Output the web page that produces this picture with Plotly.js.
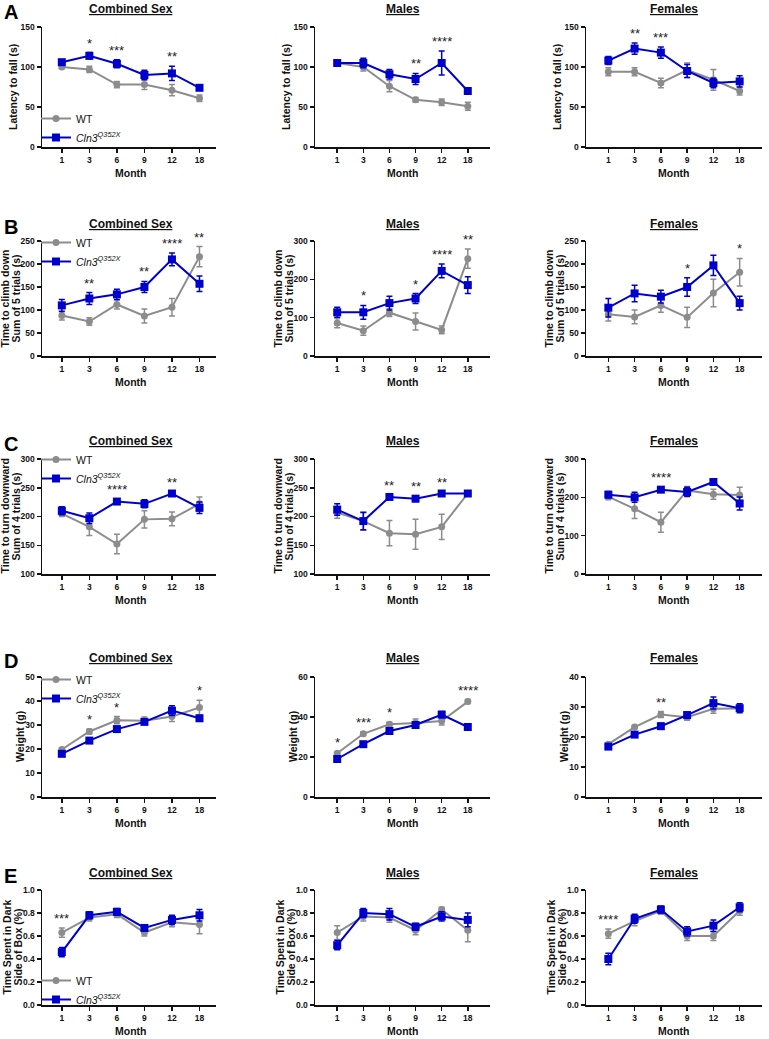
<!DOCTYPE html>
<html>
<head>
<meta charset="utf-8">
<script src="https://cdn.plot.ly/plotly-3.0.1.min.js"></script>
<style>body{margin:0;background:#fff}</style>
</head>
<body>
<div id="grafica" style="width:769px;height:1039px"></div>
<script>
var months = ['1', '3', '6', '9', '12', '18'];
var colTitles = ['Combined Sex', 'Males', 'Females'];
var rowLetters = ['A', 'B', 'C', 'D', 'E'];
var yTitles = [
  ['Latency to fall (s)'],
  ['Time to climb down', 'Sum of 5 trials (s)'],
  ['Time to turn downward', 'Sum of 4 trials (s)'],
  ['Weight (g)'],
  ['Time Spent in Dark', 'Side of Box (%)']
];
var xTitle = 'Month';
var wtName = 'WT';
var koName = '<i>Cln3<sup>Q352X</sup></i>';

// A - latency to fall
var aCombWT = [100, 97, 78, 78, 71, 61], aCombWTErr = [2, 4, 4, 6, 7, 4];
var aCombKO = [106, 114, 104, 90, 92, 74], aCombKOErr = [3, 4, 5, 6, 9, 3];
var aCombStars = ['', '*', '***', '', '**', ''];
var aMaleWT = [105, 100, 76, 59, 56, 51], aMaleWTErr = [2, 5, 7, 3, 4, 5];
var aMaleKO = [105, 105, 91, 85, 105, 70], aMaleKOErr = [2, 6, 6, 7, 15, 3];
var aMaleStars = ['', '', '', '**', '****', ''];
var aFemWT = [94, 94, 80, 96, 84, 70], aFemWTErr = [5, 5, 6, 9, 13, 5];
var aFemKO = [108, 123, 118, 95, 80, 82], aFemKOErr = [5, 7, 7, 8, 6, 7];
var aFemStars = ['', '**', '***', '', '', ''];

// B - time to climb down
var bCombWT = [88, 75, 112, 87, 106, 216], bCombWTErr = [10, 8, 10, 15, 19, 22];
var bCombKO = [110, 125, 134, 150, 210, 157], bCombKOErr = [13, 13, 11, 12, 14, 17];
var bCombStars = ['', '**', '', '**', '****', '**'];
var bMaleWT = [86, 66, 113, 90, 68, 254], bMaleWTErr = [12, 12, 10, 22, 10, 25];
var bMaleKO = [114, 114, 138, 150, 222, 185], bMaleKOErr = [13, 18, 18, 13, 18, 22];
var bMaleStars = ['', '*', '', '*', '****', '**'];
var bFemWT = [91, 85, 110, 84, 137, 182], bFemWTErr = [15, 15, 15, 22, 30, 30];
var bFemKO = [105, 136, 129, 150, 197, 115], bFemKOErr = [20, 18, 14, 20, 22, 15];
var bFemStars = ['', '', '', '*', '', '*'];

// C - time to turn downward
var cCombWT = [205, 182, 152, 195, 196, 222], cCombWTErr = [5, 15, 17, 15, 12, 12];
var cCombKO = [210, 197, 226, 222, 240, 215], cCombKOErr = [7, 9, 4, 7, 3, 10];
var cCombStars = ['', '', '****', '', '**', ''];
var cMaleWT = [207, 192, 171, 169, 182, 240], cMaleWTErr = [10, 16, 22, 26, 22, 0];
var cMaleKO = [212, 192, 234, 231, 240, 240], cMaleKOErr = [10, 15, 3, 5, 2, 2];
var cMaleStars = ['', '', '**', '**', '**', ''];
var cFemWT = [202, 170, 135, 218, 208, 206], cFemWTErr = [8, 25, 26, 10, 13, 20];
var cFemKO = [207, 200, 220, 214, 240, 184], cFemKOErr = [8, 13, 6, 12, 4, 17];
var cFemStars = ['', '', '****', '', '', ''];

// D - weight
var dCombWT = [19.8, 27.3, 32, 31.8, 33.5, 37.3], dCombWTErr = [0.5, 1, 1.5, 1.5, 2, 3];
var dCombKO = [18, 23.5, 28.3, 31.3, 36, 32.8], dCombKOErr = [0.5, 0.5, 1, 1, 2, 1];
var dCombStars = ['', '*', '*', '', '', '*'];
var dMaleWT = [21.9, 31.6, 36.4, 37, 38, 47.7], dMaleWTErr = [0.5, 1, 1, 2, 2, 1];
var dMaleKO = [19, 26.4, 33, 36, 41.2, 35], dMaleKOErr = [1, 1, 1, 1, 1.5, 1];
var dMaleStars = ['*', '***', '*', '', '', '****'];
var dFemWT = [17.6, 23.3, 27.5, 26.6, 29.4, 29.5], dFemWTErr = [0.5, 0.5, 1, 1, 1.5, 1];
var dFemKO = [16.8, 20.8, 23.6, 27.3, 31.3, 29.6], dFemKOErr = [0.5, 0.5, 1, 1, 2, 1.5];
var dFemStars = ['', '', '**', '', '', ''];

// E - time in dark side
var eCombWT = [0.63, 0.76, 0.79, 0.63, 0.72, 0.70], eCombWTErr = [0.04, 0.03, 0.03, 0.03, 0.04, 0.08];
var eCombKO = [0.46, 0.78, 0.81, 0.67, 0.74, 0.78], eCombKOErr = [0.04, 0.03, 0.03, 0.02, 0.04, 0.05];
var eCombStars = ['***', '', '', '', '', ''];
var eMaleWT = [0.63, 0.77, 0.76, 0.65, 0.83, 0.65], eMaleWTErr = [0.06, 0.04, 0.04, 0.04, 0.02, 0.1];
var eMaleKO = [0.52, 0.80, 0.79, 0.68, 0.77, 0.74], eMaleKOErr = [0.04, 0.04, 0.05, 0.03, 0.04, 0.06];
var eMaleStars = ['', '', '', '', '', ''];
var eFemWT = [0.62, 0.73, 0.82, 0.60, 0.60, 0.82], eFemWTErr = [0.04, 0.04, 0.03, 0.04, 0.04, 0.04];
var eFemKO = [0.40, 0.75, 0.83, 0.64, 0.69, 0.85], eFemKOErr = [0.05, 0.04, 0.03, 0.04, 0.05, 0.04];
var eFemStars = ['****', '', '', '', '', ''];

var panels = [
  [aCombWT, aCombWTErr, aCombKO, aCombKOErr, aCombStars],
  [aMaleWT, aMaleWTErr, aMaleKO, aMaleKOErr, aMaleStars],
  [aFemWT, aFemWTErr, aFemKO, aFemKOErr, aFemStars],
  [bCombWT, bCombWTErr, bCombKO, bCombKOErr, bCombStars],
  [bMaleWT, bMaleWTErr, bMaleKO, bMaleKOErr, bMaleStars],
  [bFemWT, bFemWTErr, bFemKO, bFemKOErr, bFemStars],
  [cCombWT, cCombWTErr, cCombKO, cCombKOErr, cCombStars],
  [cMaleWT, cMaleWTErr, cMaleKO, cMaleKOErr, cMaleStars],
  [cFemWT, cFemWTErr, cFemKO, cFemKOErr, cFemStars],
  [dCombWT, dCombWTErr, dCombKO, dCombKOErr, dCombStars],
  [dMaleWT, dMaleWTErr, dMaleKO, dMaleKOErr, dMaleStars],
  [dFemWT, dFemWTErr, dFemKO, dFemKOErr, dFemStars],
  [eCombWT, eCombWTErr, eCombKO, eCombKOErr, eCombStars],
  [eMaleWT, eMaleWTErr, eMaleKO, eMaleKOErr, eMaleStars],
  [eFemWT, eFemWTErr, eFemKO, eFemKOErr, eFemStars]
];

// y axis [min, max, dtick] per panel
var yScales = [
  [0, 150, 50], [0, 150, 50], [0, 150, 50],
  [0, 250, 50], [0, 300, 100], [0, 250, 50],
  [100, 300, 50], [100, 300, 50], [0, 300, 100],
  [0, 50, 10], [0, 60, 20], [0, 40, 10],
  [0, 1, 0.2], [0, 1, 0.2], [0, 1, 0.2]
];

// pixel geometry
var W = 769, H = 1039;
var colL = [42, 315, 586], colR = [216, 490, 762];
var xRanges = [[-0.72, 5.6], [-0.85, 5.85], [-0.85, 5.85]];
var rowT = [27, 241, 459, 677, 890], rowB = [147, 356, 574, 797, 1005];
var titleY = [9, 224, 441, 658, 873];
var legendTop = [104, 228, 445, 665, 966];
// distance from the y axis line to each title line
var yTitleOff = [[29], [38, 27], [38, 27], [22], [36, 25]];

var gray = '#8c8c8c', blue = '#0000cd';
var fam = 'Arial, "Liberation Sans", sans-serif';
var tickFont = {family: fam, size: 8.5, color: '#111', weight: 'bold'};
var titleFont = {family: fam, size: 10.5, color: '#111', weight: 'bold'};

var data = [];
var layout = {
  width: W, height: H,
  margin: {l: 0, r: 0, t: 0, b: 0},
  paper_bgcolor: '#fff', plot_bgcolor: '#fff',
  font: {family: fam, color: '#111'},
  annotations: []
};

panels.forEach(function (p, i) {
  var r = Math.floor(i / 3), c = i % 3, n = i + 1;
  var xs = n === 1 ? '' : n;
  var legName = r === 0 ? 'legend' : 'legend' + (r + 1);
  var show = c === 0;

  data.push({
    x: months, y: p[0], type: 'scatter', mode: 'lines+markers', name: wtName,
    xaxis: 'x' + xs, yaxis: 'y' + xs, legend: legName, showlegend: show,
    line: {color: gray, width: 2},
    marker: {color: gray, size: 7, symbol: 'circle'},
    error_y: {type: 'data', array: p[1], visible: true, color: gray, thickness: 1.5, width: 3},
    cliponaxis: false
  });
  data.push({
    x: months, y: p[2], type: 'scatter', mode: 'lines+markers', name: koName,
    xaxis: 'x' + xs, yaxis: 'y' + xs, legend: legName, showlegend: show,
    line: {color: blue, width: 2},
    marker: {color: blue, size: 8, symbol: 'square'},
    error_y: {type: 'data', array: p[3], visible: true, color: blue, thickness: 1.5, width: 3},
    cliponaxis: false
  });

  var ys = yScales[i];
  layout['xaxis' + xs] = {
    domain: [colL[c] / W, colR[c] / W], anchor: 'y' + xs,
    type: 'category', range: xRanges[c],
    showline: true, linewidth: 1.5, linecolor: '#111',
    ticks: 'outside', ticklen: 4, tickwidth: 1.5, tickcolor: '#111',
    showgrid: false, zeroline: false, tickfont: tickFont
  };
  layout['yaxis' + xs] = {
    domain: [1 - rowB[r] / H, 1 - rowT[r] / H], anchor: 'x' + xs,
    range: [ys[0], ys[1]], dtick: ys[2], tick0: 0,
    tickformat: ys[2] < 1 ? '.1f' : '',
    showline: true, linewidth: 1.5, linecolor: '#111',
    ticks: 'outside', ticklen: 4, tickwidth: 1.5, tickcolor: '#111',
    showgrid: false, zeroline: false, tickfont: tickFont
  };

  // panel title, centred over the months
  layout.annotations.push({
    xref: 'x' + xs, yref: 'paper', x: 2.5, y: 1 - titleY[r] / H,
    text: '<b><u>' + colTitles[c] + '</u></b>', showarrow: false,
    xanchor: 'center', yanchor: 'middle',
    font: {family: fam, size: 12, color: '#111'}
  });

  // axis titles
  layout.annotations.push({
    xref: 'x' + xs, yref: 'paper', x: 2.5, y: 1 - (rowB[r] + 26) / H,
    text: xTitle, showarrow: false, xanchor: 'center', yanchor: 'middle',
    font: titleFont
  });
  yTitles[r].forEach(function (line, j) {
    layout.annotations.push({
      xref: 'paper', yref: 'paper', x: (colL[c] - yTitleOff[r][j]) / W,
      y: 1 - (rowT[r] + rowB[r]) / 2 / H,
      text: line, showarrow: false, textangle: -90,
      xanchor: 'center', yanchor: 'middle', font: titleFont
    });
  });

  // significance stars above the higher error bar
  p[4].forEach(function (s, k) {
    if (!s) return;
    var top = Math.max(p[0][k] + p[1][k], p[2][k] + p[3][k]);
    layout.annotations.push({
      xref: 'x' + xs, yref: 'y' + xs, x: k, y: top, text: s,
      showarrow: false, yanchor: 'bottom', yshift: 0,
      font: {family: fam, size: 13, color: '#222'}
    });
  });
});

// row letters and legends
for (var r = 0; r < 5; r++) {
  layout.annotations.push({
    xref: 'paper', yref: 'paper', x: 2 / W, y: 1 - (titleY[r] + 3) / H,
    text: '<b>' + rowLetters[r] + '</b>', showarrow: false,
    xanchor: 'left', yanchor: 'middle',
    font: {family: fam, size: 20, color: '#000'}
  });
  var legKey = r === 0 ? 'legend' : 'legend' + (r + 1);
  layout[legKey] = {
    x: 36 / W, y: 1 - legendTop[r] / H, xanchor: 'left', yanchor: 'top',
    bgcolor: 'rgba(0,0,0,0)', font: {family: fam, size: 10.5, color: '#111'},
    tracegroupgap: 0
  };
}

Plotly.newPlot('grafica', data, layout, {displayModeBar: false, staticPlot: true});
</script>
</body>
</html>
